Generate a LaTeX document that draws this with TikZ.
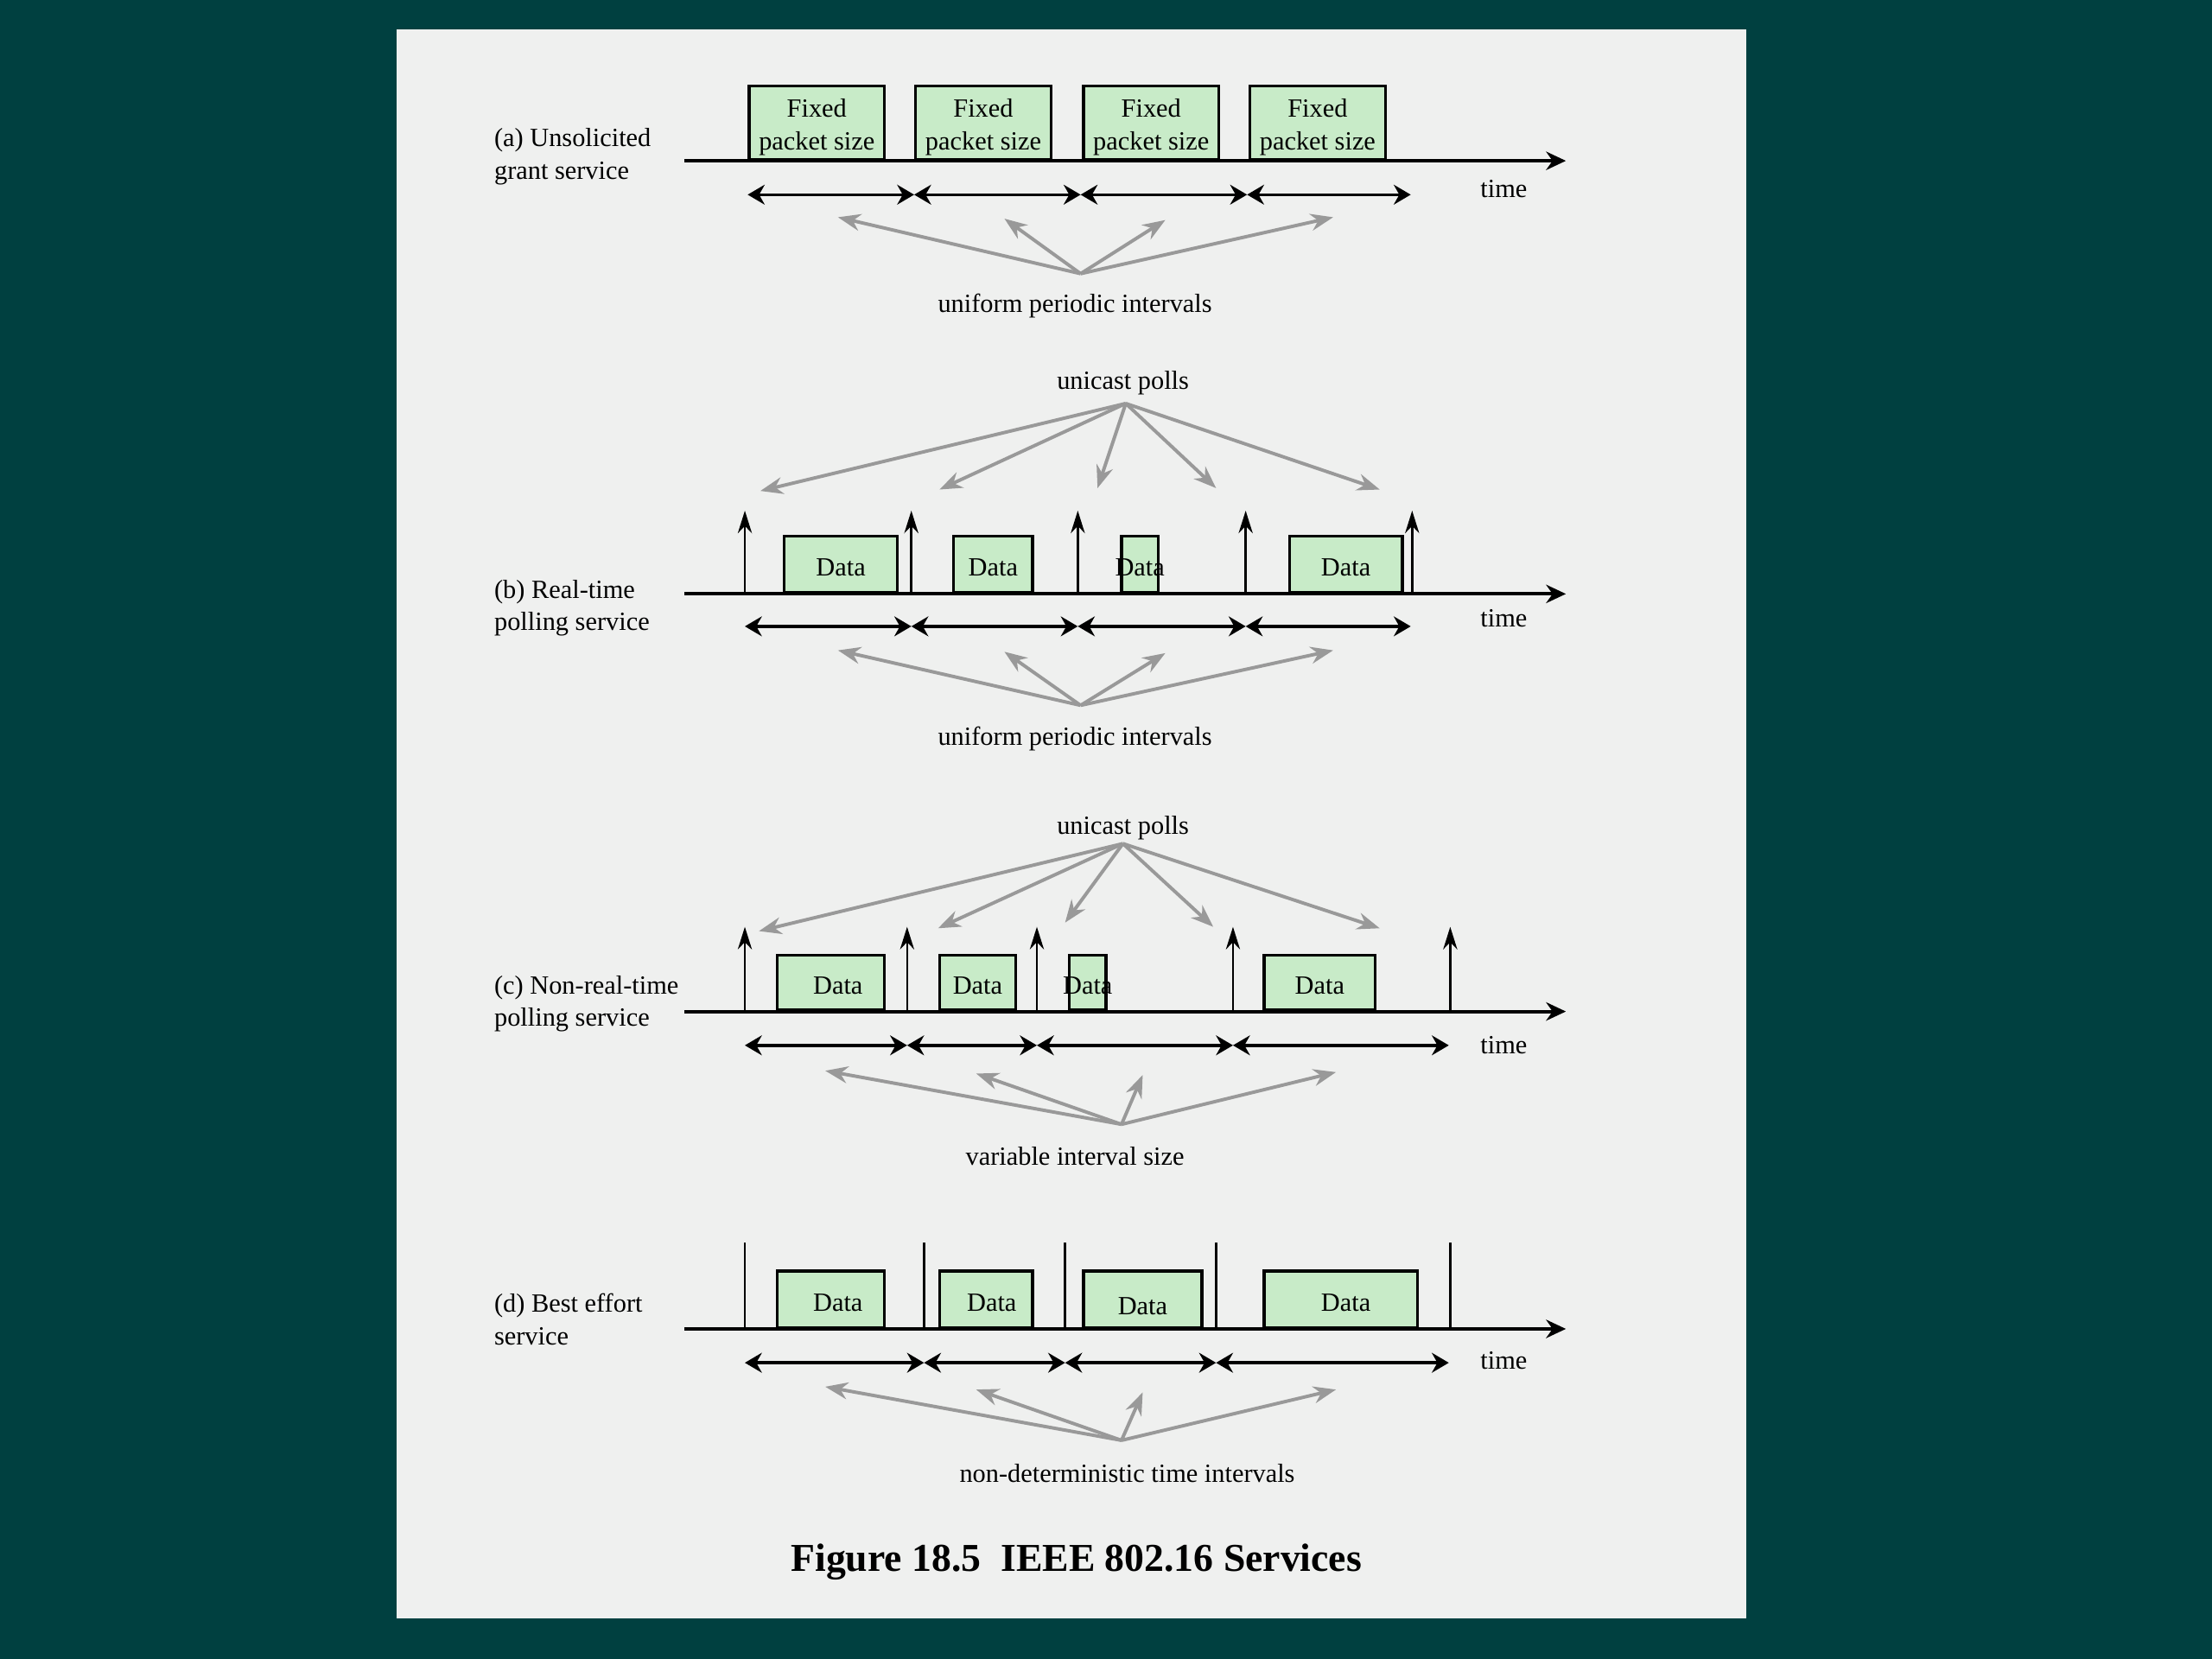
\documentclass[tikz,border=0pt]{standalone}
\usepackage{fontspec}
\setmainfont{Liberation Serif}
\usetikzlibrary{arrows.meta}
\definecolor{bg}{HTML}{004040}
\definecolor{panel}{HTML}{EFF0EF}
\definecolor{boxgreen}{HTML}{C8EBC8}
\definecolor{arrgray}{HTML}{999999}
\newcommand{\fixedtext}{\raisebox{-1.5pt}[\height][\depth]{\begin{tabular}{@{}c@{}}Fixed\\packet size\end{tabular}}}
\tikzset{
 txt/.style={font=\fontsize{9.3}{11.5}\selectfont, inner sep=0pt, yshift=-1.3pt},
 lbl/.style={txt, align=left, anchor=west},
 pkt/.style={draw=black, line width=1pt, fill=boxgreen, inner sep=0pt, anchor=south west,
   font=\fontsize{9.3}{11.5}\selectfont, text height=8.2pt, text depth=0pt},
 fixpkt/.style={draw=black, line width=1pt, fill=boxgreen, inner sep=0pt, anchor=south west,
   font=\fontsize{9.3}{11.5}\selectfont},
 axisline/.style={line width=1.2pt, -{Stealth[length=7pt,width=6.5pt]}},
 ival/.style={line width=1.1pt, {Stealth[length=6pt,width=7pt]}-{Stealth[length=6pt,width=7pt]}},
 pollarrow/.style={line width=0.75pt, -{Stealth[length=8pt,width=5pt]}},
 pollline/.style={line width=0.75pt},
 ptr/.style={arrgray, line width=1.2pt, -{Stealth[length=8pt,width=6pt]}},
}
\begin{document}
\begin{tikzpicture}[x=0.5pt,y=-0.5pt]
\useasboundingbox (0,0) rectangle (1568,1176);
\fill[bg] (0,0) rectangle (1568,1176);
\fill[panel] (281,21) rectangle (1238,1147);

% ================= (a) =================
\node[lbl] (la) at (350,108.5) {(a) Unsolicited\\grant service};
\coordinate (a0) at (485,114); \coordinate (a1) at (1110,114);
\draw[axisline] (a0) -- (a1);
\foreach \x [count=\i] in {530,648,767,885}
  \node[fixpkt, minimum width=48pt, minimum height=26pt] (ap\i) at (\x,114) {\fixedtext};
\node[txt] (ta) at (1066,131) {time};
\foreach \x [count=\i] in {530,648,766,884,1000} \coordinate (ai\i) at (\x,138);
\foreach \i/\j in {1/2,2/3,3/4,4/5} \draw[ival] (ai\i) -- (ai\j);
\node[txt] (ua) at (762,214) {uniform periodic intervals};
\coordinate (uas) at (766,194);
\foreach \x/\y [count=\i] in {594/154,712/155,826/156,945/154} {
  \coordinate (uae\i) at (\x,\y); \draw[ptr] (uas) -- (uae\i);}

% ================= (b) =================
\node[txt] (pb) at (796,269) {unicast polls};
\coordinate (pbs) at (798,286);
\foreach \x/\y [count=\i] in {539/348,666/347,778/346,862/346,978/347} {
  \coordinate (pbe\i) at (\x,\y); \draw[ptr] (pbs) -- (pbe\i);}
\coordinate (b0) at (485,421); \coordinate (b1) at (1110,421);
\draw[axisline] (b0) -- (b1);
\foreach \x [count=\i] in {528,646,764,883,1001} {
  \coordinate (bpb\i) at (\x,421); \coordinate (bpt\i) at (\x,362);
  \draw[pollarrow] (bpb\i) -- (bpt\i);}
\node[pkt, minimum width=40pt, minimum height=20pt] (bd1) at (555,421) {Data};
\node[pkt, minimum width=28pt, minimum height=20pt] (bd2) at (675,421) {Data};
\node[pkt, minimum width=13pt, minimum height=20pt] (bd3) at (794,421) {\makebox[0pt]{Data}};
\node[pkt, minimum width=40pt, minimum height=20pt] (bd4) at (913,421) {Data};
\node[lbl] (lb) at (350,428.5) {(b) Real-time\\polling service};
\node[txt] (tb) at (1066,436) {time};
\foreach \x [count=\i] in {528,646,764,883,1000} \coordinate (bi\i) at (\x,444);
\foreach \i/\j in {1/2,2/3,3/4,4/5} \draw[ival] (bi\i) -- (bi\j);
\node[txt] (ub) at (762,521) {uniform periodic intervals};
\coordinate (ubs) at (766,500);
\foreach \x/\y [count=\i] in {594/461,712/462,826/463,945/461} {
  \coordinate (ube\i) at (\x,\y); \draw[ptr] (ubs) -- (ube\i);}

% ================= (c) =================
\node[txt] (pc) at (796,584) {unicast polls};
\coordinate (pcs) at (796,598);
\foreach \x/\y [count=\i] in {538/660,665/658,755/654,860/657,978/658} {
  \coordinate (pce\i) at (\x,\y); \draw[ptr] (pcs) -- (pce\i);}
\coordinate (c0) at (485,717); \coordinate (c1) at (1110,717);
\draw[axisline] (c0) -- (c1);
\foreach \x [count=\i] in {528,643,735,874,1028} {
  \coordinate (cpb\i) at (\x,717); \coordinate (cpt\i) at (\x,657);
  \draw[pollarrow] (cpb\i) -- (cpt\i);}
\node[pkt, minimum width=38pt, minimum height=19.5pt] (cd1) at (550,717) {\hspace*{5pt}Data};
\node[pkt, minimum width=27pt, minimum height=19.5pt] (cd2) at (665,717) {Data};
\node[pkt, minimum width=13pt, minimum height=19.5pt] (cd3) at (757,717) {\makebox[0pt]{Data}};
\node[pkt, minimum width=39.5pt, minimum height=19.5pt] (cd4) at (895,717) {Data};
\node[lbl] (lc) at (350,709) {(c) Non-real-time\\polling service};
\node[txt] (tc) at (1066,738) {time};
\foreach \x [count=\i] in {528,643,735,874,1027} \coordinate (ci\i) at (\x,741);
\foreach \i/\j in {1/2,2/3,3/4,4/5} \draw[ival] (ci\i) -- (ci\j);
\node[txt] (uc) at (762,817) {variable interval size};
\coordinate (ucs) at (795,797);
\foreach \x/\y [count=\i] in {585/759,692/761,810/762,947/760} {
  \coordinate (uce\i) at (\x,\y); \draw[ptr] (ucs) -- (uce\i);}

% ================= (d) =================
\coordinate (d0) at (485,942); \coordinate (d1) at (1110,942);
\draw[axisline] (d0) -- (d1);
\foreach \x [count=\i] in {528,655,755,862,1028} {
  \coordinate (dpb\i) at (\x,942); \coordinate (dpt\i) at (\x,881);
  \draw[pollline] (dpb\i) -- (dpt\i);}
\node[pkt, minimum width=38pt, minimum height=20pt] (dd1) at (550,942) {\hspace*{5pt}Data};
\node[pkt, minimum width=33pt, minimum height=20pt] (dd2) at (665,942) {\hspace*{4pt}Data};
\node[pkt, minimum width=42pt, minimum height=20pt, text height=11pt] (dd3) at (767,942) {Data};
\node[pkt, minimum width=54.5pt, minimum height=20pt] (dd4) at (895,942) {\hspace*{3.5pt}Data};
\node[lbl] (ld) at (350,932.5) {(d) Best effort\\service};
\node[txt] (td) at (1066,962) {time};
\foreach \x [count=\i] in {528,655,755,862,1027} \coordinate (di\i) at (\x,966);
\foreach \i/\j in {1/2,2/3,3/4,4/5} \draw[ival] (di\i) -- (di\j);
\node[txt] (ud) at (799,1042) {non-deterministic time intervals};
\coordinate (uds) at (795,1021);
\foreach \x/\y [count=\i] in {585/983,692/985,810/987,947/985} {
  \coordinate (ude\i) at (\x,\y); \draw[ptr] (uds) -- (ude\i);}

% title
\node[font=\bfseries\fontsize{14}{16}\selectfont, inner sep=0pt, yshift=-1.5pt] (title) at (763,1104) {Figure 18.5\enspace IEEE 802.16 Services};
\end{tikzpicture}
\end{document}
